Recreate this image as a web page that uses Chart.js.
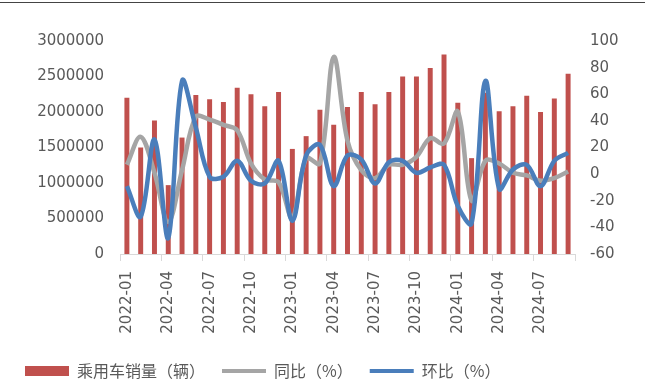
<!DOCTYPE html>
<html>
<head>
<meta charset="utf-8">
<script src="https://cdn.jsdelivr.net/npm/chart.js@4.4.1/dist/chart.umd.min.js"></script>
<style>
    html, body { margin: 0; padding: 0; background: #fff; }
    #wrap { position: relative; width: 645px; height: 386px; }
    #topRule { position: absolute; left: 0; top: 2px; width: 645px; height: 1px; background: #444; }
</style>
</head>
<body>
<div id="wrap">
    <div id="topRule"></div>
    <canvas id="salesChart" width="645" height="386"></canvas>
</div>
<script>
    // 月份
    const months = [
        '2022-01', '2022-02', '2022-03', '2022-04', '2022-05', '2022-06',
        '2022-07', '2022-08', '2022-09', '2022-10', '2022-11', '2022-12',
        '2023-01', '2023-02', '2023-03', '2023-04', '2023-05', '2023-06',
        '2023-07', '2023-08', '2023-09', '2023-10', '2023-11', '2023-12',
        '2024-01', '2024-02', '2024-03', '2024-04', '2024-05', '2024-06',
        '2024-07', '2024-08', '2024-09'
    ];

    // 乘用车销量（辆）
    const sales = [
        2200000, 1500000, 1880000, 970000, 1640000, 2240000,
        2180000, 2140000, 2340000, 2250000, 2080000, 2280000,
        1480000, 1660000, 2030000, 1820000, 2070000, 2280000,
        2110000, 2280000, 2500000, 2500000, 2620000, 2810000,
        2130000, 1350000, 2270000, 2010000, 2080000, 2230000,
        2000000, 2190000, 2540000
    ];

    // 同比（%）
    const yoy = [
        7, 28, 1, -36, 3, 43,
        41, 37, 33, 8, -4, -6,
        -33, 12, 8, 88, 25, 3,
        -3, 7, 7, 13, 27, 23,
        47, -20, 10, 8, 1, -1,
        -5, -3, 2
    ];

    // 环比（%）
    const mom = [
        -9, -32, 26, -48, 70, 35,
        -2, -2, 10, -5, -7, 10,
        -35, 14, 22, -9, 14, 11,
        -7, 9, 10, 1, 5, 7,
        -24, -37, 70, -11, 3.5, 7,
        -9, 10, 16
    ];

    const leftTicks = { min: 0, max: 3000000, step: 500000 };
    const rightTicks = { min: -60, max: 100, step: 20 };

    const textColor = '#595959';
    const numFont = { family: 'DejaVu Sans', size: 15 };

    const ctx = document.getElementById('salesChart').getContext('2d');
    new Chart(ctx, {
        data: {
            labels: months,
            datasets: [
                {
                    type: 'bar',
                    label: '乘用车销量（辆）',
                    data: sales,
                    backgroundColor: '#c0504d',
                    borderWidth: 0,
                    barPercentage: 0.36,
                    categoryPercentage: 1,
                    yAxisID: 'y',
                    order: 3
                },
                {
                    type: 'line',
                    label: '同比（%）',
                    data: yoy,
                    borderColor: '#a5a5a5',
                    backgroundColor: '#a5a5a5',
                    borderWidth: 4.5,
                    pointRadius: 0,
                    tension: 0.35,
                    fill: false,
                    yAxisID: 'y1',
                    order: 2
                },
                {
                    type: 'line',
                    label: '环比（%）',
                    data: mom,
                    borderColor: '#4a7ebb',
                    backgroundColor: '#4a7ebb',
                    borderWidth: 4.5,
                    pointRadius: 0,
                    tension: 0.35,
                    fill: false,
                    yAxisID: 'y1',
                    order: 1
                }
            ]
        },
        options: {
            responsive: false,
            animation: false,
            layout: { padding: { top: 41, left: 8, right: 0, bottom: -3 } },
            scales: {
                x: {
                    offset: true,
                    grid: {
                        display: true,
                        drawOnChartArea: false,
                        drawTicks: true,
                        tickLength: 7,
                        offset: true,
                        // tick marks every 3 months, plus the closing one
                        color: (c) => (c.index === undefined || c.index % 3 === 0) ? '#d9d9d9' : 'rgba(0,0,0,0)'
                    },
                    border: { display: true, color: '#d9d9d9', width: 1 },
                    ticks: {
                        autoSkip: false,
                        minRotation: 90,
                        maxRotation: 90,
                        padding: 10,
                        color: textColor,
                        font: numFont,
                        callback: (v, i) => i % 3 === 0 ? months[i] : ''
                    },
                    afterFit: (scale) => { scale.height = 92; }
                },
                y: {
                    position: 'left',
                    min: leftTicks.min,
                    max: leftTicks.max,
                    grid: { display: false, drawTicks: false },
                    border: { display: false },
                    ticks: {
                        stepSize: leftTicks.step,
                        padding: 16,
                        color: textColor,
                        font: numFont,
                        callback: (v) => String(v)
                    },
                    afterFit: (scale) => { scale.width = 112; }
                },
                y1: {
                    position: 'right',
                    min: rightTicks.min,
                    max: rightTicks.max,
                    grid: { display: false, drawTicks: false },
                    border: { display: false },
                    ticks: {
                        stepSize: rightTicks.step,
                        padding: 15,
                        color: textColor,
                        font: numFont
                    },
                    afterFit: (scale) => { scale.width = 70; }
                }
            },
            plugins: {
                tooltip: { enabled: false },
                legend: {
                    position: 'bottom',
                    align: 'start',
                    labels: {
                        usePointStyle: true,
                        pointStyleWidth: 44,
                        boxHeight: 10,
                        padding: 17,
                        color: textColor,
                        font: { family: 'Noto Sans CJK SC', size: 16 },
                        generateLabels: (chart) => {
                            const items = Chart.defaults.plugins.legend.labels.generateLabels(chart);
                            items.sort((a, b) => a.datasetIndex - b.datasetIndex);
                            items.forEach((it) => {
                                it.pointStyle = it.datasetIndex === 0 ? 'rect' : 'line';
                                if (it.datasetIndex > 0) it.lineWidth = 4;
                            });
                            return items;
                        }
                    }
                }
            }
        }
    });
</script>
</body>
</html>
